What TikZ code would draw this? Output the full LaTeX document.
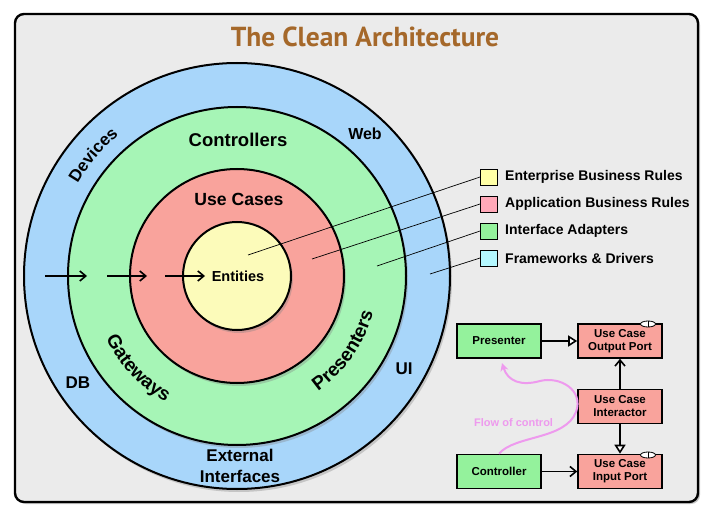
\documentclass[tikz,border=0pt]{standalone}
\usepackage{fontspec}
\setmainfont{Liberation Sans}
\newfontfamily\titlefont{PT Sans}
\usetikzlibrary{shadows,arrows.meta,shapes.geometric,decorations.text}
\definecolor{bgc}{HTML}{EBEBEB}
\definecolor{cblue}{HTML}{A8D6FA}
\definecolor{cgreen}{HTML}{A6F5B6}
\definecolor{cred}{HTML}{F9A39C}
\definecolor{cyellow}{HTML}{FCFBBA}
\definecolor{lyellow}{HTML}{FFFFA6}
\definecolor{lpink}{HTML}{FFA8B8}
\definecolor{lgreen}{HTML}{94F29C}
\definecolor{lcyan}{HTML}{B4F8FF}
\definecolor{titlec}{HTML}{A5682A}
\definecolor{flowc}{HTML}{EE9AEE}
\begin{document}
\begin{tikzpicture}[x=1pt,y=-1pt,
  ring/.style={circle,draw,line width=2pt,inner sep=0pt,
    drop shadow={shadow xshift=2pt,shadow yshift=-3pt,opacity=0.35}},
  lbl/.style={font=\bfseries\fontsize{18.5}{20}\selectfont,inner sep=1pt},
  slbl/.style={font=\bfseries\fontsize{17}{21}\selectfont,inner sep=1pt,align=center},
  legbox/.style={draw,line width=0.8pt,minimum width=17pt,minimum height=16pt,inner sep=0pt},
  legtxt/.style={font=\bfseries\fontsize{14}{16}\selectfont,anchor=west,inner sep=0pt},
  box/.style={draw,line width=1.6pt,minimum width=84pt,minimum height=34pt,inner sep=1pt,
    align=center,font=\bfseries\fontsize{11.5}{13}\selectfont},
  leader/.style={line width=0.7pt},
  dep/.style={line width=1.6pt,-{Straight Barb[length=6pt,width=10pt,line width=1.6pt]}},
  impl/.style={line width=1.6pt,-{Triangle[open,length=9pt,width=11pt,line width=1.6pt,fill=white]}},
  iface/.style={ellipse,draw,line width=0.8pt,fill=white,minimum width=15pt,minimum height=6pt,inner sep=0pt}
]
\useasboundingbox (0,0) rectangle (718,524);
\fill[white] (0,0) rectangle (718,524);
\draw[line width=2.4pt,fill=bgc,rounded corners=9pt,
  drop shadow={shadow xshift=2pt,shadow yshift=-2pt,opacity=0.45}] (15,14) rectangle (698,502);

\node[titlec,font=\titlefont\bfseries\fontsize{27.5}{30}\selectfont] (title) at (365,37) {The Clean Architecture};

% rings
\node[ring,fill=cblue,minimum size=426pt] (outer) at (237,276) {};
\node[ring,fill=cgreen,minimum size=338pt] (green) at (237,276) {};
\node[ring,fill=cred,minimum size=214pt] (red) at (237,276) {};
\node[ring,fill=cyellow,minimum size=108pt] (yellow) at (237,276) {};

% ring labels
\node[font=\bfseries\fontsize{14.5}{16}\selectfont,inner sep=1pt] (ent) at (238,276) {Entities};
\node[lbl,font=\bfseries\fontsize{17.6}{20}\selectfont] (uc) at (239,199) {Use Cases};
\node[lbl] (ctrl) at (238,140) {Controllers};
\node[slbl,font=\bfseries\fontsize{16}{18}\selectfont] (web) at (365,134) {Web};
\node[slbl] (db) at (78,383) {DB};
\node[slbl] (ui) at (404,369) {UI};
\node[slbl] (ext) at (240,466) {External\\Interfaces};

\begin{scope}[shift={(237,276)},y=1pt]
  \path[decorate,decoration={text along path,text align=center,
      text={|\bfseries\fontsize{17}{18}\selectfont|Devices}}]
    (170:184) arc[start angle=170,end angle=110,radius=184];
  \path[decorate,decoration={text along path,text align=center,
      text={|\bfseries\fontsize{19}{20}\selectfont|Gateways}}]
    (190:145) arc[start angle=190,end angle=256,radius=145];
  \path[decorate,decoration={text along path,text align=center,
      text={|\bfseries\fontsize{19}{20}\selectfont|Presenters}}]
    (290:141) arc[start angle=290,end angle=360,radius=141];
\end{scope}

% inward arrows
\coordinate (a1s) at (45,276); \coordinate (a1e) at (87,276);
\coordinate (a2s) at (107,276); \coordinate (a2e) at (147,276);
\coordinate (a3s) at (165,276); \coordinate (a3e) at (205,276);
\draw[dep,line width=1.3pt] (a1s) -- (a1e);
\draw[dep,line width=1.3pt] (a2s) -- (a2e);
\draw[dep,line width=1.3pt] (a3s) -- (a3e);

% legend
\node[legbox,fill=lyellow] (l1) at (489,177) {};
\node[legbox,fill=lpink] (l2) at (489,204) {};
\node[legbox,fill=lgreen] (l3) at (489,231) {};
\node[legbox,fill=lcyan] (l4) at (489,258) {};
\node[legtxt] (t1) at (505,177) {Enterprise Business Rules};
\node[legtxt] (t2) at (505,204) {Application Business Rules};
\node[legtxt] (t3) at (505,231) {Interface Adapters};
\node[legtxt] (t4) at (505,258) {Frameworks \& Drivers};
\coordinate (p1) at (248,255);
\coordinate (p2) at (312,259);
\coordinate (p3) at (377,266);
\coordinate (p4) at (430,274);
\draw[leader] (p1) -- (l1.west);
\draw[leader] (p2) -- (l2.west);
\draw[leader] (p3) -- (l3.west);
\draw[leader] (p4) -- (l4.west);

% flow diagram
\node[box,fill=lgreen] (presenter) at (499,341) {Presenter};
\node[box,fill=cred] (outport) at (620,341) {Use Case\\Output Port};
\node[box,fill=cred] (interactor) at (620,406.5) {Use Case\\Interactor};
\node[box,fill=lgreen] (controller) at (499,471.5) {Controller};
\node[box,fill=cred] (inport) at (620,471.5) {Use Case\\Input Port};
\node[iface] (if1) at (648,324) {};
\node[iface] (if2) at (648,455) {};
\draw[line width=0.8pt] (if1.north) -- (if1.south);
\draw[line width=0.8pt] (if2.north) -- (if2.south);

\draw[impl] (presenter) -- (outport);
\draw[dep] (interactor) -- (outport);
\draw[impl] (interactor) -- (inport);
\draw[dep] (controller) -- (inport);

\draw[flowc,line width=2pt,-{Stealth[length=8pt,width=8pt]}]
  (controller.north) .. controls (515,435) and (565,440) .. (576,412)
  .. controls (584,390) and (560,376) .. (540,381)
  .. controls (522,386) and (508,382) .. (502,363);
\node[flowc,font=\bfseries\fontsize{11}{12}\selectfont,anchor=west,inner sep=0pt] (flow) at (474,423) {Flow of control};
\end{tikzpicture}
\end{document}
